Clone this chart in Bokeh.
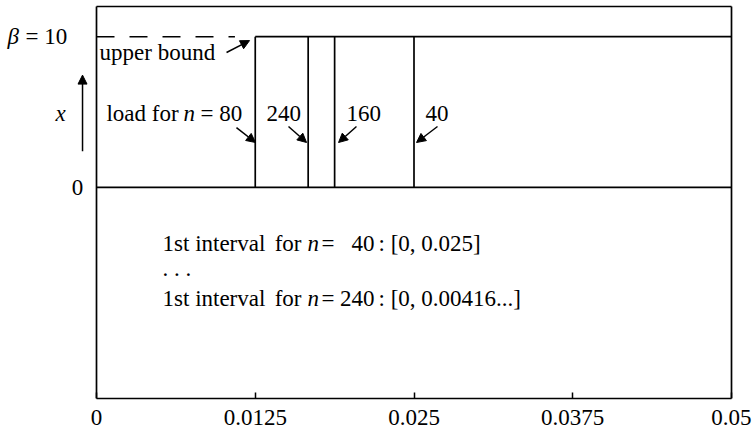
from bokeh.plotting import figure
from bokeh.models import Range1d, FixedTicker, Arrow, NormalHead
from bokeh.embed import file_html
from bokeh.resources import INLINE
from bokeh.core.properties import value

# ---- model data -------------------------------------------------------------
beta = 10                                   # upper bound on the load
n_values = [80, 240, 160, 40]               # number of subintervals
jump_points = [0.0125, 0.016667, 0.01875, 0.025]   # where the load rises to beta
x_min, x_max = 0.0, 0.05
y_min, y_max = -14, 12                      # box around the diagram
upper_bound_end = 0.0109                    # dashed bound drawn up to here
x_ticks = [0, 0.0125, 0.025, 0.0375, 0.05]
x_tick_labels = ["0", "0.0125", "0.025", "0.0375", "0.05"]

# first-interval statements printed below the curve
interval_n = ["40", "240"]
interval_text = [": [0, 0.025]", ": [0, 0.00416...]"]
interval_y = [-3.75, -7.35]

FONT = "Liberation Serif"
FS = "23px"

# the view extends past the box so the margin texts can sit left of it
p = figure(width=755, height=437, output_backend="svg", toolbar_location=None,
           x_range=Range1d(-0.0075591, 0.0518898), y_range=Range1d(y_min, 12.398),
           y_axis_location=None,
           min_border_left=0, min_border_right=0, min_border_top=0,
           min_border_bottom=39)
p.background_fill_color = "white"
p.border_fill_color = "white"
p.outline_line_color = None
p.xgrid.visible = False
p.ygrid.visible = False

# bottom axis
xa = p.xaxis[0]
xa.ticker = FixedTicker(ticks=x_ticks)
xa.bounds = (x_min, x_max)
xa.major_label_overrides = {t: s for t, s in zip(x_ticks, x_tick_labels)}
xa.minor_tick_line_color = None
xa.major_tick_in = 6
xa.major_tick_out = 0
xa.major_tick_line_width = 1.5
xa.axis_line_width = 1.7
xa.major_label_standoff = 11
xa.major_label_text_font = FONT
xa.major_label_text_font_size = FS
xa.major_label_text_color = "black"

LW = 1.7

# box around the diagram
p.segment(x0=[x_min, x_min, x_max], y0=[y_min, y_max, y_min],
          x1=[x_min, x_max, x_max], y1=[y_max, y_max, y_max],
          line_color="black", line_width=LW)

# ---- the load curves ---------------------------------------------------------
p.segment(x0=[x_min], y0=[0], x1=[x_max], y1=[0], line_color="black", line_width=LW)
p.segment(x0=[min(jump_points)], y0=[beta], x1=[x_max], y1=[beta],
          line_color="black", line_width=LW)
p.segment(x0=jump_points, y0=[0] * len(jump_points), x1=jump_points,
          y1=[beta] * len(jump_points), line_color="black", line_width=LW)
# dashed upper bound
p.segment(x0=[x_min], y0=[beta], x1=[upper_bound_end], y1=[beta], line_color="black",
          line_width=1.5, line_dash="18 15")


def txt(x, y, s, style="normal", align="left"):
    p.text(x=[x], y=[y], text=[s], text_font=value(FONT), text_font_size=FS,
           text_font_style=style, text_align=align, text_baseline="middle",
           text_color="black")


def arrow(x0, y0, x1, y1):
    p.add_layout(Arrow(x_start=x0, y_start=y0, x_end=x1, y_end=y1,
                       line_color="black", line_width=1.5,
                       end=NormalHead(size=9, fill_color="black",
                                      line_color="black")))


# level labels left of the box
txt(-0.00701, beta, "\u03b2", style="italic")
txt(-0.00559, beta, "= 10")
txt(-0.0015, 0, "0", align="center")

# y-variable marker with its upward arrow
load_y = 4.9
txt(-0.00283, load_y, "x", style="italic", align="center")
arrow(-0.0011, 2.4, -0.0011, 7.45)

# upper bound label
txt(0.00024, 8.95, "upper bound")
arrow(0.01024, 8.95, 0.01205, 9.74)

# load labels for each n
txt(0.00646, load_y, "load for", align="right")
txt(0.00685, load_y, "n", style="italic")
txt(0.00819, load_y, f"= {n_values[0]}")
label_x = [None, 0.01339, 0.01969, 0.02591]
for n, lx in zip(n_values[1:], label_x[1:]):
    txt(lx, load_y, str(n))

arrow_start = [(0.01102, 3.97), (0.01512, 4.04), (0.02047, 4.04), (0.02685, 4.04)]
arrow_end_x = [0.01252, 0.01654, 0.01906, 0.0252]
for (sx, sy), ex in zip(arrow_start, arrow_end_x):
    arrow(sx, sy, ex, 2.98)

# first-interval statements
for n, t, yy in zip(interval_n, interval_text, interval_y):
    txt(0.0052, yy, "1st interval")
    txt(0.01614, yy, "for", align="right")
    txt(0.01661, yy, "n", style="italic")
    txt(0.01772, yy, "=")
    txt(0.02189, yy, n, align="right")
    txt(0.02221, yy, t)
txt(0.0052, -5.35, ". . .")

open("out.html", "w").write(file_html(p, INLINE))
